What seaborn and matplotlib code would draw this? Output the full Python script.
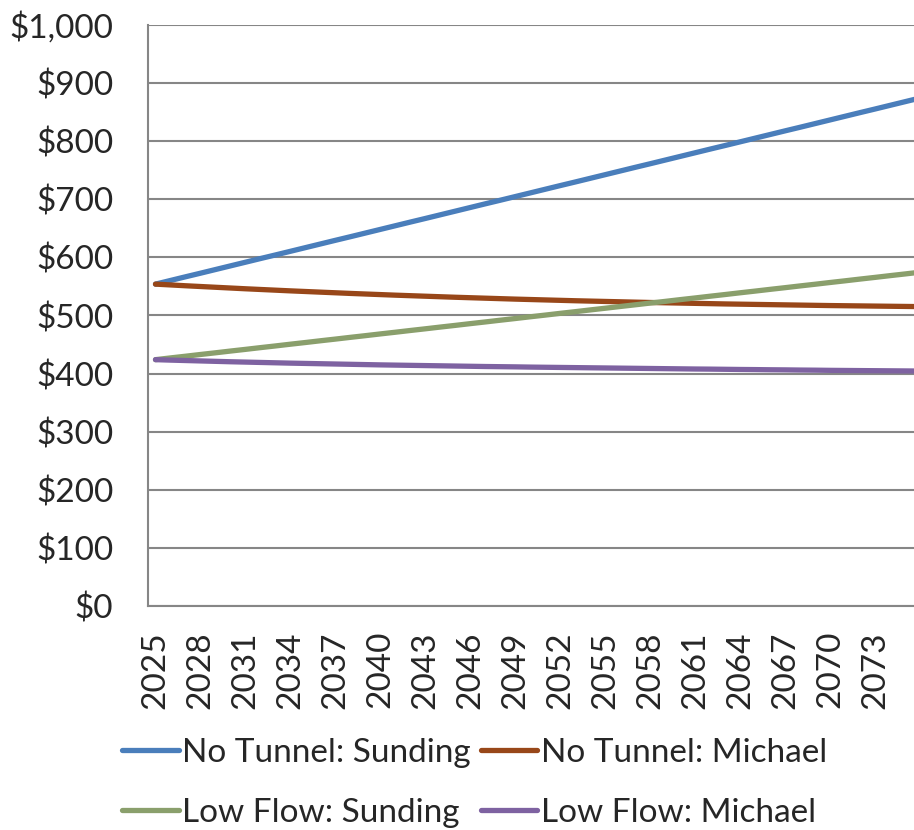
import matplotlib
matplotlib.use("Agg")
import matplotlib.pyplot as plt
import matplotlib.ticker as mticker
import seaborn as sns
import pandas as pd

# ---------------------------------------------------------------------------
# data, one value per year from 2025
# ---------------------------------------------------------------------------
years = list(range(2025, 2077))

no_tunnel_sunding = [554.0, 560.3, 566.6, 572.8, 579.1, 585.4, 591.7, 598.0, 604.2, 610.5,
                     616.8, 623.1, 629.4, 635.6, 641.9, 648.2, 654.5, 660.8, 667.0, 673.3,
                     679.6, 685.9, 692.2, 698.4, 704.7, 711.0, 717.3, 723.6, 729.8, 736.1,
                     742.4, 748.7, 755.0, 761.2, 767.5, 773.8, 780.1, 786.4, 792.6, 798.9,
                     805.2, 811.5, 817.8, 824.0, 830.3, 836.6, 842.9, 849.2, 855.4, 861.7,
                     868.0, 874.3]

no_tunnel_michael = [554.0, 552.6, 551.2, 549.9, 548.6, 547.3, 546.0, 544.8, 543.6, 542.4,
                     541.3, 540.2, 539.1, 538.0, 537.0, 536.0, 535.0, 534.1, 533.2, 532.3,
                     531.4, 530.6, 529.8, 529.0, 528.2, 527.5, 526.8, 526.1, 525.4, 524.8,
                     524.2, 523.6, 523.0, 522.4, 521.9, 521.4, 520.9, 520.4, 519.9, 519.5,
                     519.1, 518.7, 518.3, 517.9, 517.5, 517.1, 516.8, 516.5, 516.2, 515.9,
                     515.6, 515.3]

low_flow_sunding = [424.0, 427.0, 429.9, 432.9, 435.8, 438.8, 441.7, 444.7, 447.6, 450.6,
                    453.5, 456.5, 459.4, 462.4, 465.3, 468.3, 471.2, 474.2, 477.1, 480.1,
                    483.0, 486.0, 488.9, 491.9, 494.8, 497.8, 500.7, 503.7, 506.6, 509.6,
                    512.5, 515.5, 518.4, 521.4, 524.3, 527.3, 530.2, 533.2, 536.1, 539.1,
                    542.0, 545.0, 547.9, 550.9, 553.8, 556.8, 559.7, 562.7, 565.6, 568.6,
                    571.5, 574.5]

low_flow_michael = [424.0, 423.2, 422.5, 421.8, 421.1, 420.4, 419.8, 419.2, 418.6, 418.0,
                    417.5, 417.0, 416.5, 416.0, 415.5, 415.0, 414.6, 414.2, 413.8, 413.4,
                    413.0, 412.6, 412.2, 411.9, 411.6, 411.2, 410.9, 410.6, 410.3, 410.0,
                    409.7, 409.4, 409.1, 408.8, 408.5, 408.2, 407.9, 407.7, 407.4, 407.1,
                    406.9, 406.6, 406.4, 406.1, 405.9, 405.6, 405.4, 405.2, 405.0, 404.8,
                    404.6, 404.4]

series_names = ["No Tunnel: Sunding", "No Tunnel: Michael",
                "Low Flow: Sunding", "Low Flow: Michael"]
colors = ["#4A7EBB", "#984719", "#8A9F6C", "#7E62A1"]

df = pd.DataFrame({
    "year": years * 4,
    "value": no_tunnel_sunding + no_tunnel_michael + low_flow_sunding + low_flow_michael,
    "series": [s for s in series_names for _ in years],
})

#------------------------------------------------------------------------------#
sns.set_style("white")
plt.rcParams["font.family"] = ["Lato", "DejaVu Sans"]

fig = plt.figure(figsize=(9.14, 8.3), dpi=100)
ax = fig.add_axes([148 / 914, 1 - 606 / 830, 1 - 148 / 914, (606 - 25) / 830])

sns.lineplot(data=df, x="year", y="value", hue="series", hue_order=series_names,
             palette=colors, linewidth=3.8, ax=ax, legend=False,
             solid_capstyle="round")

ax.set_ylim(0, 1000)
ax.set_xlim(2024.5, 2075.6)
ax.yaxis.set_major_locator(mticker.MultipleLocator(100))
ax.yaxis.set_major_formatter(mticker.FuncFormatter(lambda v, p: "${:,.0f}".format(v)))
ax.set_xticks(range(2025, 2074, 3))
ax.set_xlabel("")
ax.set_ylabel("")
ax.grid(axis="y", color="#868686", linewidth=1.5)
ax.set_axisbelow(True)

for side in ["top", "right"]:
    ax.spines[side].set_visible(False)
for side in ["left", "bottom"]:
    ax.spines[side].set_color("#868686")
    ax.spines[side].set_linewidth(1.5)

ax.tick_params(axis="y", length=0, pad=25, labelsize=24)
ax.tick_params(axis="x", length=0, pad=18, labelsize=24, labelrotation=90)

# legend filled row by row, like the original
order = [0, 2, 1, 3]
handles = [plt.Line2D([], [], color=colors[i], linewidth=3.8, solid_capstyle="round") for i in order]
labels = [series_names[i] for i in order]
fig.legend(handles, labels, ncol=2, loc="upper left",
           bbox_to_anchor=(122 / 914, 1 - 738 / 830), frameon=False,
           fontsize=24, handlelength=1.7, handletextpad=0.1,
           columnspacing=0.3, labelspacing=0.9, borderaxespad=0, borderpad=0)

fig.savefig("out.png", dpi=100)
